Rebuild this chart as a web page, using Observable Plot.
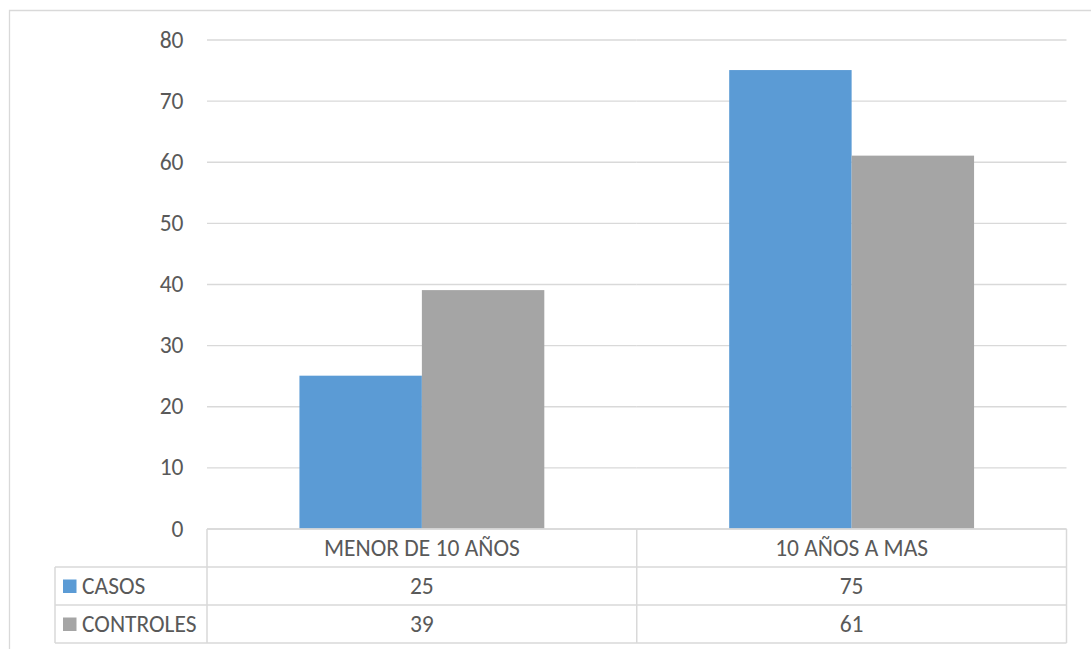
<!DOCTYPE html>
<html>
<head>
<meta charset="utf-8">
<script src="https://cdn.jsdelivr.net/npm/d3@7"></script>
<script src="https://cdn.jsdelivr.net/npm/@observablehq/plot@0.6"></script>
<style>
  html, body { margin: 0; padding: 0; background: #fff; }
  #chart { position: relative; width: 1091px; height: 649px; }
  svg { display: block; }
</style>
</head>
<body>
<div id="chart"></div>
<script>
// Age groups, series and values shown in the chart and its data table
const categories = ["MENOR DE 10 AÑOS", "10 AÑOS A MAS"];
const seriesNames = ["CASOS", "CONTROLES"];
const casos = [25, 75];
const controles = [39, 61];
const yTicks = [0, 10, 20, 30, 40, 50, 60, 70, 80];
const seriesColors = ["#5B9BD5", "#A5A5A5"];

const seriesValues = [casos, controles];
const rows = [];
seriesNames.forEach((s, si) => {
  categories.forEach((c, ci) => rows.push({category: c, series: s, value: seriesValues[si][ci]}));
});

const FONT = "Carlito, Calibri, Lato, sans-serif";
const FS = 23.5;
const TEXT = "#595959";
const LINE = "#d9d9d9";

const plot = Plot.plot({
  width: 1091,
  height: 649,
  marginLeft: 207,
  marginRight: 24.5,
  marginTop: 39.5,
  marginBottom: 120.5,
  style: {fontFamily: FONT, fontSize: FS + "px", color: TEXT, background: "#fff"},
  fx: {domain: categories, padding: 0, axis: null, round: false},
  x: {domain: seriesNames, paddingInner: 0, paddingOuter: 0.755, axis: null, round: false},
  y: {domain: [0, 80], axis: null},
  color: {domain: seriesNames, range: seriesColors},
  marks: [
    Plot.gridY(yTicks, {stroke: LINE, strokeOpacity: 1, strokeWidth: 1.4}),
    Plot.axisY({ticks: yTicks, tickSize: 0, tickPadding: 24, fontSize: FS, fill: TEXT, anchor: "left", label: null}),
    Plot.barY(rows, {fx: "category", x: "series", y: "value", fill: "series", inset: 0})
  ]
});

document.getElementById("chart").appendChild(plot);

// Data table under the plot, aligned to the facet columns
const svg = d3.select(plot);
const fx = plot.scale("fx");
const y = plot.scale("y");
const colW = fx.bandwidth;
const tableX0 = fx.apply(categories[0]);
const tableX1 = fx.apply(categories[categories.length - 1]) + colW;
const tableTop = y.apply(0) + 0.5;
const rowH = 38;
const legendLeft = 55;
const nRows = seriesNames.length + 1;
const tableBottom = tableTop + nRows * rowH;

const g = svg.append("g");
// outer chart border
g.append("path")
  .attr("d", `M9.5,649 V10.5 H1091`)
  .attr("fill", "none").attr("stroke", LINE).attr("stroke-width", 1.3);

const lines = [];
lines.push([tableX0, tableTop, tableX1, tableTop]);
for (let r = 1; r <= nRows; r++) lines.push([legendLeft, tableTop + r * rowH, tableX1, tableTop + r * rowH]);
lines.push([legendLeft, tableTop + rowH, legendLeft, tableBottom]);
categories.forEach(c => lines.push([fx.apply(c), tableTop, fx.apply(c), tableBottom]));
lines.push([tableX1, tableTop, tableX1, tableBottom]);
g.selectAll("line.tbl").data(lines).join("line")
  .attr("x1", d => d[0]).attr("y1", d => d[1]).attr("x2", d => d[2]).attr("y2", d => d[3])
  .attr("stroke", LINE).attr("stroke-width", 1.5);

const txt = (x, yy, s, anchor) => g.append("text")
  .attr("x", x).attr("y", yy).attr("text-anchor", anchor || "middle")
  .attr("dominant-baseline", "central")
  .attr("font-family", FONT).attr("font-size", FS).attr("fill", TEXT).text(s);

categories.forEach(c => txt(fx.apply(c) + colW / 2, tableTop + rowH / 2, c));
seriesNames.forEach((s, si) => {
  const cy = tableTop + (si + 1) * rowH + rowH / 2;
  g.append("rect").attr("x", 63).attr("y", cy - 6.5).attr("width", 13.5).attr("height", 13.5)
    .attr("fill", seriesColors[si]);
  txt(82, cy, s, "start");
  categories.forEach((c, ci) => txt(fx.apply(c) + colW / 2, cy, String(seriesValues[si][ci])));
});
</script>
</body>
</html>
